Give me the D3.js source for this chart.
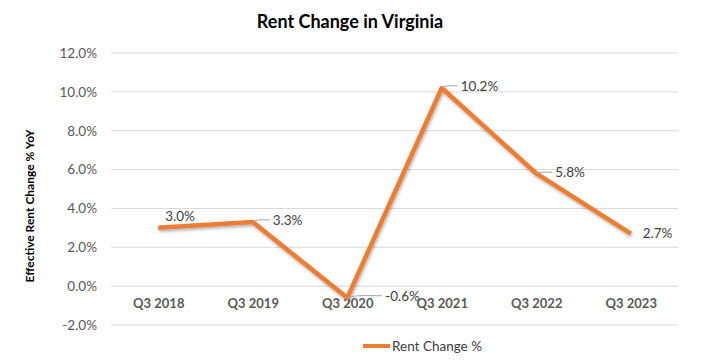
<!DOCTYPE html>
<html><head><meta charset="utf-8">
<script src="https://cdn.jsdelivr.net/npm/d3@7"></script>
<style>
body{margin:0;background:#fff;}
text{font-family:Lato,"Open Sans",sans-serif;}
</style></head>
<body>
<svg id="c" width="702" height="361"></svg>
<script>
const categories = ["Q3 2018","Q3 2019","Q3 2020","Q3 2021","Q3 2022","Q3 2023"];
const values = [3.0, 3.3, -0.6, 10.2, 5.8, 2.7];
const yTicks = [-2, 0, 2, 4, 6, 8, 10, 12];
const labelOffsets = [[7,-12,false],[20,-2,true],[38,-2,true],[19,-2,true],[19,-1,true],[12,0,false]];

(function(){
const svg = d3.select("#c");
const pL = 111, pR = 678, pT = 53, pB = 325;
const FS = 13.5;
const x = d3.scalePoint().domain(categories).range([pL, pR]).padding(0.5);
const y = d3.scaleLinear().domain([-2, 12]).range([pB, pT]);

svg.append("text").attr("x", 350).attr("y", 28).attr("text-anchor","middle")
  .attr("font-size", 18).attr("font-weight","bold").attr("fill","#000").text("Rent Change in Virginia");

svg.append("g").selectAll("line").data(yTicks).join("line")
  .attr("x1", pL).attr("x2", pR).attr("y1", d=>y(d)).attr("y2", d=>y(d))
  .attr("stroke","#d9d9d9").attr("stroke-width",1);

const yAxis = svg.append("g").attr("transform",`translate(${pL},0)`)
  .call(d3.axisLeft(y).tickValues(yTicks).tickSize(0).tickPadding(14).tickFormat(d=>d.toFixed(1)+"%"));
yAxis.select(".domain").remove();
yAxis.selectAll("text").attr("font-size",FS).attr("fill","#595959").attr("font-family","Lato,'Open Sans',sans-serif");

const xAxis = svg.append("g").attr("transform",`translate(0,${y(0)})`)
  .call(d3.axisBottom(x).tickSize(0).tickPadding(13));
xAxis.select(".domain").remove();
xAxis.selectAll("text").attr("font-size",13).attr("font-weight","bold").attr("fill","#595959").attr("font-family","Lato,'Open Sans',sans-serif");

svg.append("text").attr("transform",`translate(34,206) rotate(-90)`)
  .attr("text-anchor","middle").attr("font-size",12).attr("font-weight","bold").attr("fill","#000")
  .text("Effective Rent Change % YoY");

const defs = svg.append("defs");
const f = defs.append("filter").attr("id","sh").attr("x","-10%").attr("y","-10%").attr("width","120%").attr("height","130%");
f.append("feDropShadow").attr("dx",1).attr("dy",2).attr("stdDeviation",1.5).attr("flood-color","#000").attr("flood-opacity",0.3);

const line = d3.line().x((d,i)=>x(categories[i])).y(d=>y(d));
svg.append("path").datum(values).attr("d", line).attr("fill","none")
  .attr("stroke","#ED7D31").attr("stroke-width",4.5).attr("stroke-linejoin","round").attr("filter","url(#sh)");

const lg = svg.append("g");
values.forEach((v,i)=>{
  const px = x(categories[i]), py = y(v);
  const [dx, dy, leader] = labelOffsets[i];
  if (leader) {
    lg.append("path").attr("d",`M${px},${py} Q${px+4},${py+dy-1} ${px+dx-3},${py+dy}`)
      .attr("fill","none").attr("stroke","#a6a6a6").attr("stroke-width",1);
  }
  lg.append("text").attr("x", px+dx).attr("y", py+dy).attr("dy","0.35em")
    .attr("font-size",FS).attr("fill","#404040").text(v.toFixed(1)+"%");
});

svg.append("line").attr("x1",363).attr("x2",390).attr("y1",346).attr("y2",346)
  .attr("stroke","#ED7D31").attr("stroke-width",4);
svg.append("text").attr("x",392).attr("y",346).attr("dy","0.35em").attr("font-size",FS).attr("fill","#404040").text("Rent Change %");
})();
</script>
</body></html>
